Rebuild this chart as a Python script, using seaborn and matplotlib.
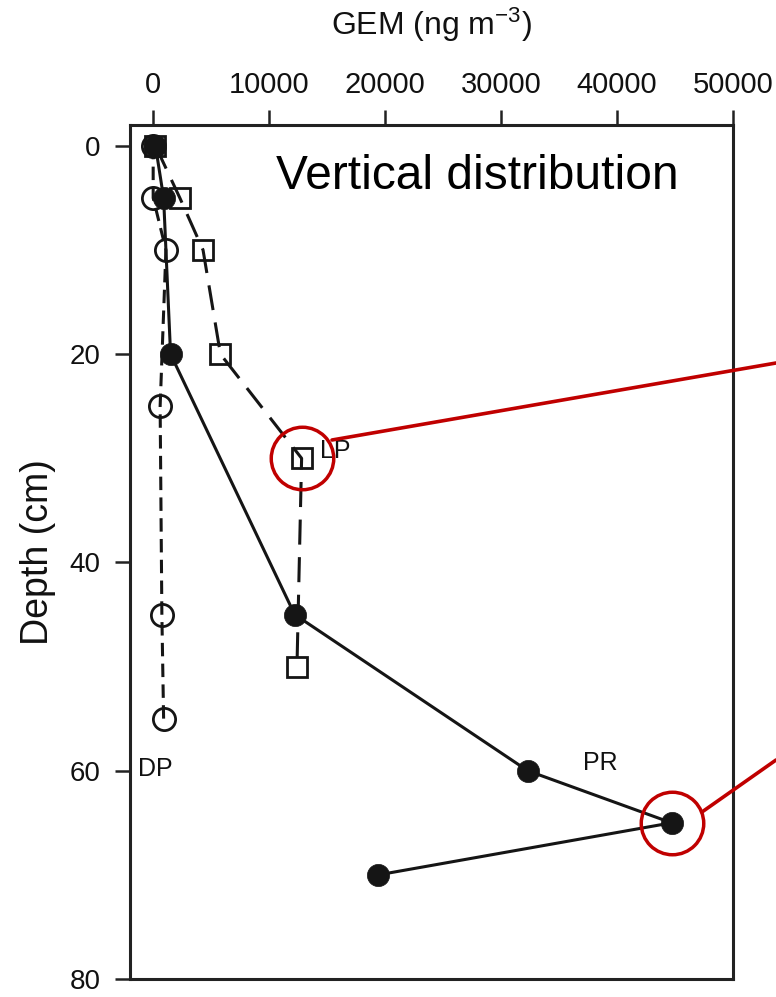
import numpy as np
import pandas as pd
import matplotlib
matplotlib.use("Agg")
import matplotlib.pyplot as plt
from matplotlib.lines import Line2D
import seaborn as sns

# nilai (GEM dalam ng m-3, kedalaman dalam cm)
dp_depth = [0, 5, 10, 25, 45, 55]
dp_gem = [0, 0, 1100, 600, 750, 900]

lp_depth = [0, 5, 10, 20, 30, 50]
lp_gem = [200, 2300, 4300, 5800, 12800, 12400]

pr_depth = [0, 5, 20, 45, 60, 65, 70]
pr_gem = [200, 900, 1500, 12200, 32300, 44700, 19400]

x_ticks = [0, 10000, 20000, 30000, 40000, 50000]
y_ticks = [0, 20, 40, 60, 80]

sns.set_style("ticks")
plt.rcParams["font.family"] = ["Liberation Sans", "DejaVu Sans"]
plt.rcParams["mathtext.default"] = "regular"
for k in ["text.color", "axes.labelcolor", "xtick.color", "ytick.color"]:
    plt.rcParams[k] = "#111111"

fig, ax = plt.subplots(figsize=(7.76, 9.97), dpi=100)
fig.subplots_adjust(left=0.1675, right=0.9446, top=0.8746, bottom=0.018)

ink = "#151515"

# DP: lingkaran kosong, putus-putus pendek
sns.lineplot(x=dp_gem, y=dp_depth, sort=False, estimator=None, ax=ax,
             color=ink, marker="o", ms=16, mfc="none", mec=ink, mew=2.0)
ax.lines[-1].set_linewidth(2.2)
ax.lines[-1].set_dashes((4.4, 2.4))

# LP: kotak kosong, putus-putus panjang
sns.lineplot(x=lp_gem, y=lp_depth, sort=False, estimator=None, ax=ax,
             color=ink, marker="s", ms=14, mfc="none", mec=ink, mew=2.0)
ax.lines[-1].set_linewidth(2.2)
ax.lines[-1].set_dashes((8.2, 4.1))

# PR: lingkaran penuh, garis utuh
sns.lineplot(x=pr_gem, y=pr_depth, sort=False, estimator=None, ax=ax,
             color=ink, marker="o", ms=16, mfc=ink, mec=ink, mew=0.5)
ax.lines[-1].set_linewidth(2.2)

# lingkaran merah penanda
red = "#c00000"
ax.plot(lp_gem[4], lp_depth[4], marker="o", ms=45, mfc="none", mec=red,
        mew=2.5, clip_on=False, zorder=5)
ax.plot(pr_gem[5], pr_depth[5], marker="o", ms=45, mfc="none", mec=red,
        mew=2.5, clip_on=False, zorder=5)
W, H = 776, 997
fig.add_artist(Line2D([332 / W, 1.0], [1 - 440 / H, 1 - 363 / H],
                      transform=fig.transFigure, color=red, lw=2.6))
fig.add_artist(Line2D([702 / W, 1.0], [1 - 812 / H, 1 - 760 / H],
                      transform=fig.transFigure, color=red, lw=2.6))

ax.text(-1300, 59.8, "DP", fontsize=18, va="center", ha="left")
ax.text(14400, 29.3, "LP", fontsize=18, va="center", ha="left")
ax.text(37100, 59.3, "PR", fontsize=18, va="center", ha="left")
ax.text(10600, 2.9, "Vertical distribution", fontsize=34.5, va="center",
        ha="left", color="black")

ax.set_xlim(-2000, 50000)
ax.set_ylim(80, -2)
ax.set_xticks(x_ticks)
ax.set_yticks(y_ticks)
ax.xaxis.tick_top()
ax.xaxis.set_label_position("top")
ax.set_xlabel("GEM (ng m$^{-3}$)", fontsize=23, labelpad=26)
ax.set_ylabel("Depth (cm)", fontsize=27, labelpad=10)
ax.tick_params(axis="x", labelsize=21, length=11, width=1.8, pad=8, color="#222222")
ax.tick_params(axis="y", labelsize=20, length=11, width=1.8, pad=10, color="#222222")
for s in ax.spines.values():
    s.set_linewidth(2.2)
    s.set_color("#222222")

plt.savefig("out.png", dpi=100)
